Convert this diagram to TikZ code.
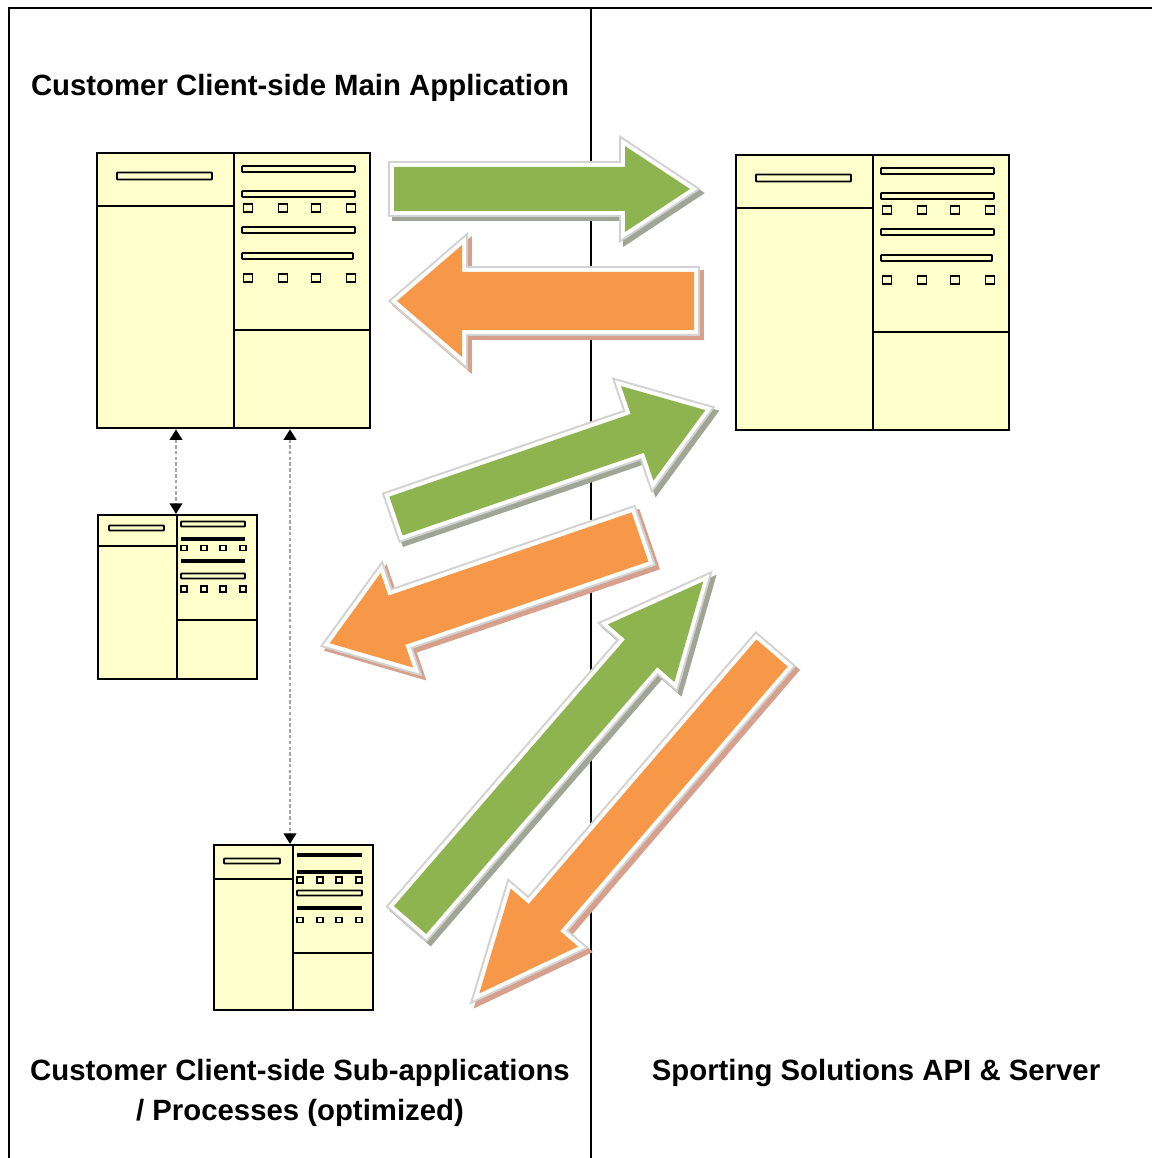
\documentclass[tikz,border=0pt]{standalone}
\usepackage{fontspec}
\setmainfont{Liberation Sans}
\usetikzlibrary{arrows.meta,calc}
\newcommand\pxu{0.02cm}
\definecolor{winfill}{RGB}{255,255,204}
\definecolor{agreen}{RGB}{142,180,80}
\definecolor{aorange}{RGB}{246,152,72}
\definecolor{gshadow}{RGB}{160,165,150}
\definecolor{oshadow}{RGB}{215,160,140}
\definecolor{halo}{RGB}{210,210,210}
\tikzset{
  win/.style={draw=black, fill=winfill, line width=1.3pt, rectangle, inner sep=0pt, anchor=north west},
  wline/.style={line width=1.3pt},
  bar/.style={draw=black, fill=winfill, line width=1.1pt, rounded corners=0.4pt},
  tbar/.style={line width=1.8pt},
  sq/.style={draw=black, fill=winfill, line width=1.1pt},
  frame/.style={line width=1.1pt, black},
  link/.style={draw=gray!70, line width=1.4pt, dash pattern=on 2pt off 1.3pt,
    {Triangle[length=6pt,width=7pt,color=black]}-{Triangle[length=6pt,width=7pt,color=black]}},
  ttl/.style={font=\bfseries\fontsize{16.7}{20}\selectfont, inner sep=0pt, anchor=base}
}
\newcommand\bigwin[3]{%
  \node[win, minimum width=273*\pxu, minimum height=275*\pxu] (#1) at (#2,#3) {};
  \begin{scope}[shift={(#1.north west)}]
    \draw[wline] (138,0) -- (138,275);
    \draw[wline] (0,54) -- (138,54);
    \draw[wline] (138,178) -- (273,178);
    \draw[bar] (21,20.5) rectangle (116,27.5);
    \foreach \yy in {17,42,78}{\draw[bar] (146,\yy-3) rectangle (259,\yy+3);}
    \draw[bar] (146,101) rectangle (257,107);
    \foreach \yy in {56,126}{\foreach \xx in {152,187,220,255}{%
      \draw[sq] (\xx-4.5,\yy-4) rectangle (\xx+4.5,\yy+4);}}
  \end{scope}}
\newcommand\barrow[9]{%
  \def\arrshape{(0,-#7) -- ({#6-#9},-#7) -- ({#6-#9},-#8) -- (#6,0) -- ({#6-#9},#8) -- ({#6-#9},#7) -- (0,#7) -- cycle}%
  \begin{scope}[shift={(#3+4,#4+4)},rotate=#5]
    \filldraw[draw=#2,fill=#2,line width=6.8pt,line join=miter] \arrshape;
  \end{scope}
  \begin{scope}[shift={(#3,#4)},rotate=#5]
    \filldraw[draw=halo,fill=white,line width=6.8pt,line join=miter] \arrshape;
    \draw[white,line width=4.5pt,line join=miter] \arrshape;
    \fill[#1] \arrshape;
  \end{scope}}
\begin{document}
\begin{tikzpicture}[x=0.02cm,y=-0.02cm]
\useasboundingbox[fill=white] (0,0) rectangle (1152,1158);
% frame
\draw[frame] (9,1158) -- (9,8) -- (1152,8);
\draw[frame] (591,8) -- (591,1158);
% windows
\bigwin{main}{96}{152}
\bigwin{server}{735}{154}
\node[win, minimum width=159*\pxu, minimum height=164*\pxu] (sub1) at (97,514) {};
\begin{scope}[shift={(sub1.north west)}]
  \draw[wline] (80,0) -- (80,164);
  \draw[wline] (0,32) -- (80,32);
  \draw[wline] (80,106) -- (159,106);
  \draw[bar] (12,11.5) rectangle (67,16.5);
  \draw[bar] (84,7.5) rectangle (148,12.5);
  \draw[tbar] (84,25) -- (148,25);
  \draw[tbar] (84,47) -- (148,47);
  \draw[bar] (84,59.5) rectangle (148,64.5);
  \foreach \xx in {87,107,126,146}{%
    \draw[sq] (\xx-3,31.5) rectangle (\xx+3,36.5);
    \draw[sq] (\xx-3,72) rectangle (\xx+3,78);}
\end{scope}
\node[win, minimum width=159*\pxu, minimum height=165*\pxu] (sub2) at (213,844) {};
\begin{scope}[shift={(sub2.north west)}]
  \draw[wline] (80,0) -- (80,165);
  \draw[wline] (0,35) -- (80,35);
  \draw[wline] (80,109) -- (159,109);
  \draw[bar] (11,14.5) rectangle (67,19.5);
  \draw[tbar] (84,11) -- (149,11);
  \draw[tbar] (84,28) -- (149,28);
  \draw[bar] (84,46.5) rectangle (149,51.5);
  \draw[tbar] (84,64) -- (149,64);
  \foreach \xx in {87,107,126,146}{%
    \draw[sq] (\xx-3,33) rectangle (\xx+3,39);
    \draw[sq] (\xx-3,73.5) rectangle (\xx+3,78.5);}
\end{scope}
% dotted links
\coordinate (l1) at ($(sub1.north west)+(79,0)$);
\coordinate (l2) at ($(sub2.north west)+(77,0)$);
\draw[link] (l1 |- main.south) -- (l1);
\draw[link] (l2 |- main.south) -- (l2);
% big arrows
\barrow{agreen}{gshadow}{394}{189}{0}{296}{22}{43}{65}
\barrow{aorange}{oshadow}{694}{301}{180}{297}{29}{56}{65}
\barrow{agreen}{gshadow}{396}{516}{18.9}{327}{20.5}{50}{72}
\barrow{aorange}{oshadow}{640}{537}{198.9}{328}{26}{50}{71}
\barrow{agreen}{gshadow}{410}{920}{49.1}{448}{21.3}{44}{95}
\barrow{aorange}{oshadow}{772}{653}{229.3}{449}{20.7}{44.4}{100}
% texts
\node[ttl] (t1) at (300,96) {Customer Client-side Main Application};
\node[ttl] (t2) at (300,1080) {Customer Client-side Sub-applications};
\node[ttl] (t3) at (300,1120) {/ Processes (optimized)};
\node[ttl] (t4) at (876,1080) {Sporting Solutions API \& Server};
\end{tikzpicture}
\end{document}
